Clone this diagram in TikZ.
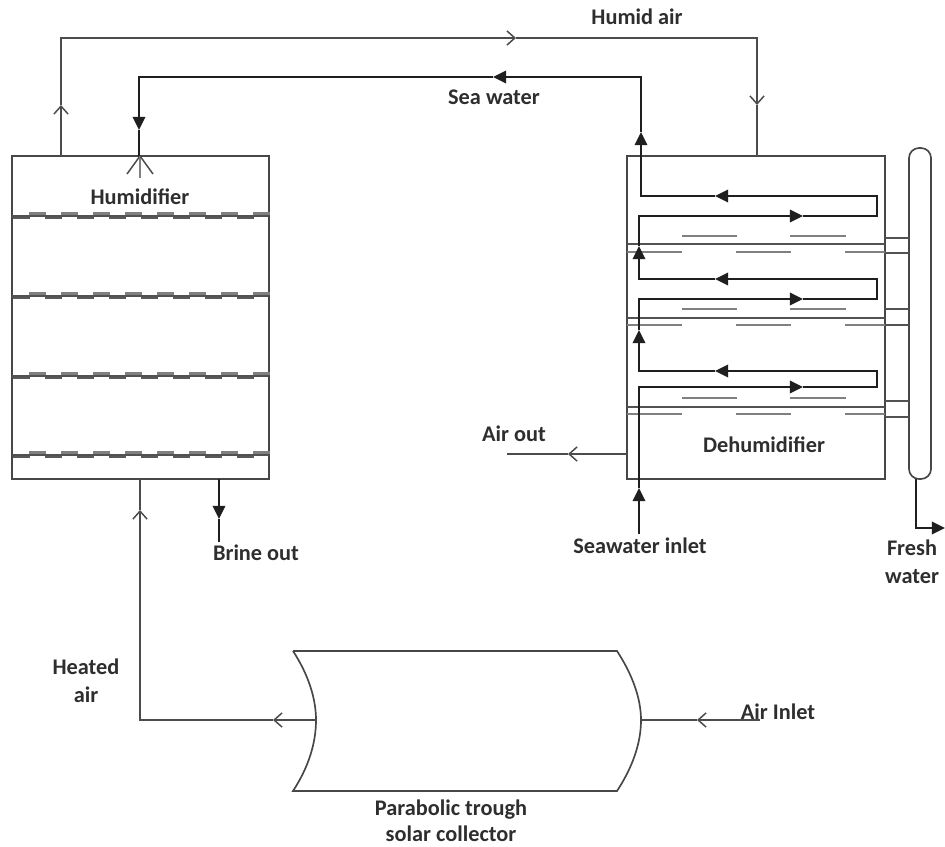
\documentclass[tikz,border=0pt]{standalone}
\usepackage{fontspec}
\setmainfont{Carlito}
\usetikzlibrary{positioning, arrows.meta, calc}

\tikzset{
  label/.style={font=\fontsize{12.7}{14.8}\selectfont\bfseries, text=black!82, inner sep=0pt, align=center},
  vessel/.style={draw=black!72, line width=0.95pt, inner sep=0pt},
  airline/.style={draw=black!70, line width=0.85pt},
  airtip/.style={airline, -{Straight Barb[length=4.5pt, width=8pt]}},
  waterline/.style={draw=black!88, line width=1.5pt},
  watertip/.style={waterline, -{Triangle[length=7.5pt, width=7pt]}},
  film/.style={draw=black!50, line width=1.3pt},
  plate/.style={draw=black!68, line width=0.7pt}
}

\begin{document}
\begin{tikzpicture}[x=0.02cm, y=-0.02cm]
  \useasboundingbox (0,0) rectangle (945,847);

  % Columns
  \node[vessel, minimum width=5.14cm, minimum height=6.46cm] (humidifier) at (140.5,317.5) {};
  \node[vessel, minimum width=5.16cm, minimum height=6.46cm] (dehumidifier) at (756,317.5) {};
  \node[vessel, minimum width=0.44cm, minimum height=6.62cm, rounded corners=0.2cm] (tank) at (920,313.5) {};

  % Humidifier packing
  \foreach \y in {216,296,376,455} {
    \draw[plate] (12,\y) -- (269,\y);
    \foreach \i in {0,...,7} {
      \draw[film] ({29+32*\i},\y-2.5) -- ({46+32*\i},\y-2.5);
      \draw[film, draw=black!65] ({13+32*\i},\y+2) -- ({30+32*\i},\y+2);
    }
  }

  % Dehumidifier plates and drains
  \foreach \y/\up/\lo/\da/\db in {244/236/252/238/253, 318/309/325/309/325, 407/398/414/401/417} {
    \draw[plate] (627,\y) -- (885,\y);
    \draw[film, line width=0.9pt] (682,\up) -- (737,\up);
    \draw[film, line width=0.9pt] (790,\up) -- (846,\up);
    \draw[film, line width=0.9pt] (627,\lo) -- (682,\lo);
    \draw[film, line width=0.9pt] (736,\lo) -- (791,\lo);
    \draw[film, line width=0.9pt] (845,\lo) -- (885,\lo);
    \draw[plate] (885,\da) -- (909,\da);
    \draw[plate] (885,\db) -- (909,\db);
  }

  % Collector
  \coordinate (clta) at (293,651);
  \coordinate (cltb) at (617,651);
  \coordinate (clba) at (293,791);
  \coordinate (clbb) at (617,791);
  \coordinate (clin) at (641,720);
  \coordinate (clout) at (316,720);
  \draw[vessel] (clta) -- (cltb) .. controls (632,674) and (641,698) .. (clin)
    .. controls (641,744) and (632,768) .. (clbb) -- (clba)
    .. controls (308,768) and (316,744) .. (clout)
    .. controls (316,698) and (308,674) .. (clta);

  % Air loop
  \coordinate (hairtop) at (61,156);
  \coordinate (hairtipa) at (61,105);
  \coordinate (hairtipb) at (516,38);
  \coordinate (hairtipc) at (757,105);
  \coordinate (dairtop) at (757,156);
  \draw[airtip] (hairtop) -- (hairtipa);
  \draw[airtip] (hairtipa) -- (61,38) -- (hairtipb);
  \draw[airtip] (hairtipb) -- (757,38) -- (hairtipc);
  \draw[airline] (hairtipc) -- (dairtop);

  \coordinate (airoutfrom) at (627,454);
  \coordinate (airouttip) at (568,454);
  \coordinate (airoutend) at (507,454);
  \draw[airtip] (airoutfrom) -- (airouttip);
  \draw[airline] (airouttip) -- (airoutend);

  \coordinate (ainend) at (760,720);
  \coordinate (aintip) at (697,720);
  \draw[airtip] (ainend) -- (aintip);
  \draw[airline] (aintip) -- (clin);

  \coordinate (heattipa) at (273,720);
  \coordinate (heattipb) at (140,510);
  \coordinate (humbase) at (140,479);
  \draw[airtip] (clout) -- (heattipa);
  \draw[airtip] (heattipa) -- (140,720) -- (heattipb);
  \draw[airline] (heattipb) -- (humbase);

  % Sea water coil
  \coordinate (seain) at (639,534);
  \coordinate (seatipa) at (639,488);
  \coordinate (seatipb) at (803,387);
  \coordinate (seatipc) at (715,371);
  \coordinate (seatipd) at (639,330);
  \coordinate (seatipe) at (803,299);
  \coordinate (seatipf) at (715,279);
  \coordinate (seatipg) at (639,246);
  \coordinate (seatiph) at (803,216);
  \coordinate (seatipi) at (715,196);
  \coordinate (seatipj) at (641,132);
  \coordinate (seatipk) at (493,77);
  \coordinate (seatipl) at (139,130);
  \coordinate (sprayhead) at (140,156);
  \draw[watertip] (seain) -- (seatipa);
  \draw[watertip] (seatipa) -- (639,387) -- (seatipb);
  \draw[watertip] (seatipb) -- (877,387) -- (877,371) -- (seatipc);
  \draw[watertip] (seatipc) -- (639,371) -- (seatipd);
  \draw[watertip] (seatipd) -- (639,299) -- (seatipe);
  \draw[watertip] (seatipe) -- (877,299) -- (877,279) -- (seatipf);
  \draw[watertip] (seatipf) -- (639,279) -- (seatipg);
  \draw[watertip] (seatipg) -- (639,216) -- (seatiph);
  \draw[watertip] (seatiph) -- (877,216) -- (877,196) -- (seatipi);
  \draw[watertip] (seatipi) -- (641,196) -- (seatipj);
  \draw[watertip] (seatipj) -- (641,77) -- (seatipk);
  \draw[watertip] (seatipk) -- (139,77) -- (seatipl);
  \draw[waterline] (seatipl) -- (139,157);

  % Spray
  \draw[airline] (sprayhead) -- (127,174);
  \draw[airline, draw=black!50] (sprayhead) -- (140,178);
  \draw[airline] (sprayhead) -- (153,174);

  % Brine and fresh water outlets
  \coordinate (brinefrom) at (219,479);
  \coordinate (brinetip) at (219,519);
  \coordinate (brineend) at (219,542);
  \draw[watertip] (brinefrom) -- (brinetip);
  \draw[waterline] (brinetip) -- (brineend);
  \coordinate (freshfrom) at (916,479);
  \coordinate (freshend) at (945,528);
  \draw[watertip] (freshfrom) -- (916,528) -- (freshend);

  % Labels
  \node[label] (humidair) at (637,17) {Humid air};
  \node[label] (seawater) at (494,97) {Sea water};
  \node[label] (humlabel) at (140,197) {Humidifier};
  \node[label] (dehumlabel) at (764,445) {Dehumidifier};
  \node[label] (airout) at (514,434) {Air out};
  \node[label] (brineout) at (256,553) {Brine out};
  \node[label] (seainlet) at (640,546) {Seawater inlet};
  \node[label] (freshwater) at (912,562) {Fresh\\[1.2pt]water};
  \node[label] (heatedair) at (86,681) {Heated\\[1.2pt]air};
  \node[label] (airinlet) at (778,712) {Air Inlet};
  \node[label] (trough) at (451,821) {Parabolic trough\\solar collector};
\end{tikzpicture}
\end{document}
